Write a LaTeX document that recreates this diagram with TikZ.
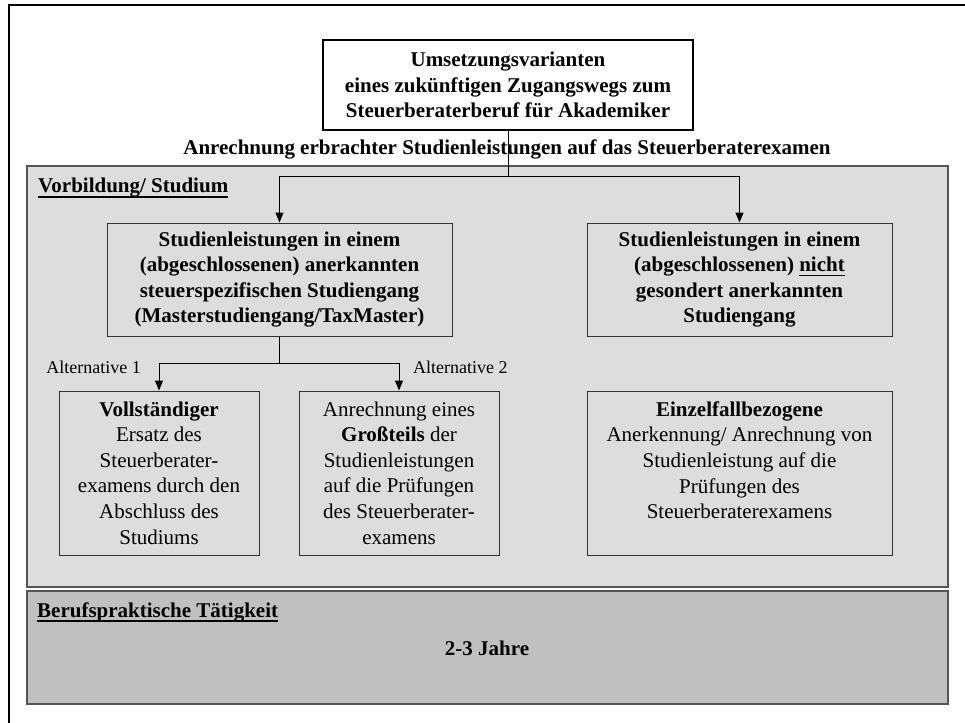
\documentclass[tikz,border=0pt]{standalone}
\usepackage{fontspec}
\setmainfont{Liberation Serif}
\usetikzlibrary{arrows.meta}

\definecolor{panellight}{HTML}{DDDDDD}
\definecolor{paneldark}{HTML}{C0C0C0}
\definecolor{edgegray}{HTML}{555555}
\definecolor{boxedge}{HTML}{333333}

% body text: 21pt with 25.6pt leading
\newcommand\bodysize{\fontsize{21}{25.6}\selectfont}
\newcommand\smallsize{\fontsize{18}{22}\selectfont}
% underline of a given thickness, set a given distance below the baseline
\newsavebox\ulbox
\newcommand\ruleunder[3]{\sbox\ulbox{#3}\rlap{\rule[-#2]{\wd\ulbox}{#1}}\usebox\ulbox}
\newcommand\headul[1]{\ruleunder{2pt}{5pt}{#1}}
\newcommand\textul[1]{\ruleunder{1.6pt}{4.5pt}{#1}}

\tikzset{
  panel/.style={draw=edgegray, line width=1.5pt},
  textbox/.style={draw=boxedge, line width=1pt, align=center, inner sep=0pt, font=\bodysize},
  titlebox/.style={draw=black, line width=2.5pt, fill=white, align=center, inner sep=0pt, font=\bodysize\bfseries},
  heading/.style={inner sep=0pt, font=\bodysize\bfseries},
  altlabel/.style={inner sep=0pt, font=\smallsize},
  link/.style={line width=1pt, -{Triangle[length=10pt,width=8pt]}},
  plain/.style={line width=1pt}
}

\begin{document}
\begin{tikzpicture}[x=1pt,y=-1pt]
\useasboundingbox (0,0) rectangle (965,722);

% outer frame, running off the right and bottom edges
\begin{scope}
  \clip (0,0) rectangle (965,722);
  \draw[line width=2pt] (9,5) rectangle (1000,760);
\end{scope}

% background panels
\filldraw[panel, fill=panellight] (27,166) rectangle (948,587);
\filldraw[panel, fill=paneldark] (27,591) rectangle (948,704);

% title
\node[titlebox, minimum width=370, minimum height=90] (top) at (508,85)
  {Umsetzungsvarianten\\eines zukünftigen Zugangswegs zum\\Steuerberaterberuf für Akademiker};
\node[heading, anchor=base] (anr) at (507,155)
  {Anrechnung erbrachter Studienleistungen auf das Steuerberaterexamen};

% panel headings
\node[heading, anchor=base west] (vorb) at (38,193) {\headul{Vorbildung/ Studium}};
\node[heading, anchor=base west] (beruf) at (37,617) {\headul{Berufspraktische Tätigkeit}};
\node[heading, anchor=base] (jahre) at (487,655) {2-3 Jahre};

% study programme boxes
\node[textbox, font=\bodysize\bfseries, minimum width=345, minimum height=113] (a) at (279.5,279.5)
  {Studienleistungen in einem\\(abgeschlossenen) anerkannten\\steuerspezifischen Studiengang\\(Masterstudiengang/TaxMaster)};
\node[textbox, font=\bodysize\bfseries, minimum width=305, minimum height=113] (b) at (739.5,279.5)
  {Studienleistungen in einem\\(abgeschlossenen) \textul{nicht}\\gesondert anerkannten\\Studiengang};

% outcome boxes
\node[textbox, minimum width=200, minimum height=164] (c1) at (159,473)
  {\textbf{Vollständiger}\\Ersatz des\\Steuerberater-\\examens durch den\\Abschluss des\\Studiums};
\node[textbox, minimum width=200, minimum height=164] (c2) at (399,473)
  {Anrechnung eines\\\textbf{Großteils} der\\Studienleistungen\\auf die Prüfungen\\des Steuerberater-\\examens};
\node[textbox, minimum width=305, minimum height=164] (c3) at (739.5,473)
  {\textbf{Einzelfallbezogene}\\Anerkennung/ Anrechnung von\\Studienleistung auf die\\Prüfungen des\\Steuerberaterexamens\\\mbox{}};

% alternative labels
\node[altlabel, anchor=base east] (alt1) at (141,373) {Alternative 1};
\node[altlabel, anchor=base west] (alt2) at (413,373) {Alternative 2};

% connectors
\draw[plain] (top.south) -- ++(0,45) coordinate (j1);
\draw[link] (j1) -| (a.north);
\draw[link] (j1) -| (b.north);
\draw[plain] (a.south) -- ++(0,27) coordinate (j2);
\draw[link] (j2) -| (c1.north);
\draw[link] (j2) -| (c2.north);
\end{tikzpicture}
\end{document}
